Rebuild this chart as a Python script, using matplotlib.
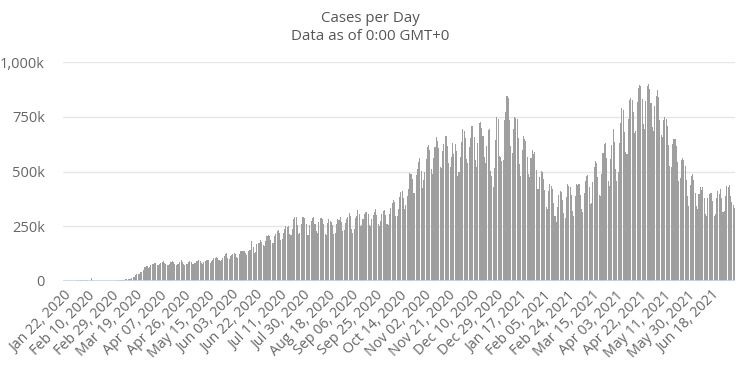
import matplotlib
matplotlib.use("Agg")
import matplotlib.pyplot as plt
from matplotlib.ticker import FuncFormatter, FixedLocator
import numpy as np

# Daily new cases (thousands), Jan 22, 2020 .. Dec 31, 2020
cases_2020_k = [
    # Jan 22-31
    0.6, 0.1, 0.3, 0.7, 0.7, 0.8, 1.8, 1.2, 1.7, 2.0,
    # Feb
    2.1, 2.6, 3.2, 3.9, 3.7, 3.2, 3.4, 2.7, 3.0, 2.5, 2.1, 2.0, 15.1, 5.1, 2.6,
    2.1, 2.0, 1.9, 0.6, 0.6, 1.0, 0.8, 0.6, 0.5, 0.9, 0.9, 1.2, 1.4, 1.8,
    # Mar
    1.8, 1.9, 2.4, 2.2, 2.7, 3.9, 3.8, 4.0, 4.0, 4.6, 7.3, 7.5, 10.9, 10.9, 11.0,
    13.9, 16.7, 19.0, 25.8, 32.1, 32.4, 33.0, 40.1, 41.0, 49.7, 62.3, 65.5, 66.6,
    60.1, 62.4, 73.1,
    # Apr
    76.4, 79.0, 84.0, 80.0, 72.0, 75.0, 78.8, 84.3, 85.0, 90.8, 82.0, 76.0, 72.7,
    74.0, 79.6, 88.7, 91.2, 84.8, 76.6, 75.0, 76.0, 78.6, 87.9, 95.0, 87.8, 77.3,
    74.8, 77.0, 77.1, 85.3,
    # May
    92.5, 87.1, 79.9, 79.0, 81.5, 91.1, 89.4, 95.1, 92.0, 82.0, 76.1, 85.1, 89.2,
    96.8, 98.0, 97.0, 84.3, 90.4, 95.4, 104, 107, 109, 104, 98, 92, 94.6, 106,
    116, 123.4, 127, 107,
    # Jun
    101, 115, 118, 125, 130, 123, 109, 107, 122, 137, 136, 139, 135, 129, 119,
    137, 143, 140, 181, 156, 130, 132, 167, 172, 174, 188, 179, 166, 162, 181,
    # Jul
    205, 210, 205, 188, 174, 175, 205, 216, 228, 235, 218, 189, 191, 219, 236,
    251, 245, 250, 213, 208, 238, 282, 290, 291, 256, 213, 220, 260, 290, 291, 286,
    # Aug
    258, 212, 209, 256, 274, 286, 291, 262, 227, 218, 268, 286, 289, 282, 262,
    213, 212, 266, 282, 276, 269, 256, 213, 218, 258, 282, 280, 290, 268, 228, 231,
    # Sep
    264, 284, 291, 312, 296, 238, 220, 238, 289, 299, 322, 306, 253, 256, 281,
    306, 317, 317, 308, 254, 252, 283, 300, 317, 329, 300, 259, 252, 273, 308,
    # Oct
    319, 325, 302, 262, 256, 305, 332, 357, 369, 362, 298, 296, 328, 385, 406,
    413, 379, 331, 345, 387, 422, 493, 488, 465, 401, 404, 482, 512, 542, 563, 503,
    # Nov
    424, 463, 498, 556, 610, 621, 599, 513, 488, 560, 612, 657, 637, 606, 519,
    517, 593, 627, 661, 660, 615, 538, 520, 565, 629, 580, 624, 595, 481, 497,
    # Dec
    565, 636, 693, 686, 652, 555, 541, 612, 653, 706, 707, 656, 554, 519, 628,
    722, 727, 698, 660, 565, 537, 617, 691, 696, 504, 478, 431, 517, 645, 751, 741,
]

# Daily new cases (thousands), Jan 1, 2021 .. Jul 6, 2021
cases_2021_k = [
    # Jan
    569, 568, 547, 552, 736, 772, 845, 835, 737, 617, 585, 694, 750, 746, 740,
    651, 535, 481, 596, 664, 650, 640, 566, 487, 473, 560, 597, 582, 590, 506, 420,
    # Feb
    420, 477, 501, 497, 467, 415, 336, 329, 411, 441, 433, 420, 356, 296, 268,
    340, 393, 410, 405, 372, 312, 289, 384, 443, 436, 430, 394, 320,
    # Mar
    298, 388, 443, 440, 445, 394, 330, 317, 400, 456, 478, 486, 430, 352, 357,
    450, 520, 549, 540, 474, 394, 386, 490, 583, 625, 630, 561, 457, 435, 558, 620,
    # Apr
    692, 635, 512, 456, 500, 630, 723, 789, 781, 680, 590, 580, 738, 827, 836,
    828, 770, 675, 684, 817, 881, 893, 891, 829, 716, 696, 820, 890, 901, 877,
    # May
    811, 701, 686, 800, 847, 872, 842, 735, 667, 658, 734, 748, 741, 707, 622,
    523, 520, 625, 650, 648, 616, 542, 458, 470, 553, 562, 552, 525, 462, 389, 343,
    # Jun
    437, 478, 489, 462, 400, 342, 331, 399, 428, 416, 429, 380, 306, 296, 380,
    395, 403, 400, 364, 297, 305, 380, 412, 398, 420, 377, 315, 320, 390, 433,
    # Jul 1-6
    431, 438, 390, 360, 345, 333,
]

tick_labels = [
    "Jan 22, 2020", "Feb 10, 2020", "Feb 29, 2020", "Mar 19, 2020", "Apr 07, 2020",
    "Apr 26, 2020", "May 15, 2020", "Jun 03, 2020", "Jun 22, 2020", "Jul 11, 2020",
    "Jul 30, 2020", "Aug 18, 2020", "Sep 06, 2020", "Sep 25, 2020", "Oct 14, 2020",
    "Nov 02, 2020", "Nov 21, 2020", "Dec 10, 2020", "Dec 29, 2020", "Jan 17, 2021",
    "Feb 05, 2021", "Feb 24, 2021", "Mar 15, 2021", "Apr 03, 2021", "Apr 22, 2021",
    "May 11, 2021", "May 30, 2021", "Jun 18, 2021",
]
tick_step = 19
y_ticks = [0, 250000, 500000, 750000, 1000000]

title = "Cases per Day"
subtitle = "Data as of 0:00 GMT+0"

cases = np.array(cases_2020_k + cases_2021_k) * 1000
x = np.arange(len(cases))

plt.rcParams['font.family'] = ['Open Sans', 'DejaVu Sans']

fig = plt.figure(figsize=(7.4, 3.7), dpi=100)
ax = fig.add_axes([63/740, 1 - 281/370, (735 - 63)/740, (281 - 62)/370])

ax.bar(x, cases, width=0.82, color='#9f9f9f', edgecolor='none', linewidth=0, zorder=3)

ax.set_xlim(-0.5, len(cases) - 0.5)
ax.set_ylim(0, 1000000)

ax.yaxis.set_major_locator(FixedLocator(y_ticks))
ax.yaxis.set_major_formatter(FuncFormatter(lambda v, p: "0" if v == 0 else f"{v/1000:,.0f}k"))
ax.grid(axis='y', color='#e6e6e6', linewidth=1, zorder=0)
ax.set_axisbelow(True)

ax.set_xticks(x[::tick_step][:len(tick_labels)])
ax.set_xticklabels(tick_labels, rotation=45, ha='right', rotation_mode='anchor')

for s in ax.spines.values():
    s.set_visible(False)
ax.axhline(0, color='#ccd6eb', linewidth=1.2, zorder=4)

ax.tick_params(axis='y', length=0, pad=13, labelsize=10.5, labelcolor='#666666')
ax.tick_params(axis='x', length=0, pad=5, labelsize=10.3, labelcolor='#666666')

fig.text(0.5, 1 - 18/370, title, ha='center', va='center', fontsize=10.8, color='#555555')
fig.text(0.5, 1 - 37/370, subtitle, ha='center', va='center', fontsize=10.8, color='#555555')

fig.savefig('out.png', dpi=100)
